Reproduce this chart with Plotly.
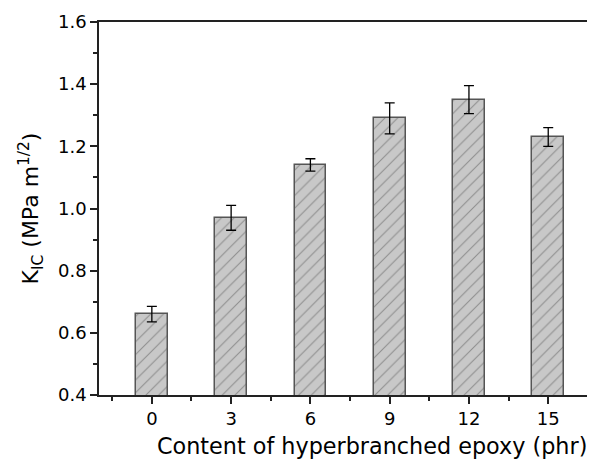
import plotly.graph_objects as go

content_phr = [0, 3, 6, 9, 12, 15]
kic_values = [0.66, 0.97, 1.14, 1.29, 1.35, 1.23]
kic_errors = [0.025, 0.04, 0.02, 0.05, 0.045, 0.03]

FONT = "DejaVu Sans, Arial, sans-serif"

fig = go.Figure()
fig.add_trace(go.Bar(
    x=content_phr, y=kic_values, width=1.2,
    marker=dict(color="#c8c8c8",
                line=dict(color="#555555", width=1.5),
                pattern=dict(shape="/", fgcolor="#555555", bgcolor="#c8c8c8",
                             size=9, solidity=0.12)),
    error_y=dict(type="data", array=kic_errors, visible=True,
                 color="black", thickness=1.3, width=5),
))

# page body has an 8px default margin, so the figure is 8px smaller
fig.update_layout(
    width=587, height=451,
    margin=dict(l=91, r=0, t=14, b=64),
    plot_bgcolor="white", paper_bgcolor="white",
    font=dict(family=FONT, color="black", size=19),
    showlegend=False,
    bargap=0,
    annotations=[dict(
        text="Content of hyperbranched epoxy (phr)",
        xref="paper", yref="paper", x=0.55, y=-0.137,
        xanchor="center", yanchor="middle", showarrow=False,
        font=dict(size=22.3, family=FONT, color="black"),
    )],
)
fig.update_xaxes(
    range=[-2.0, 16.77], tickmode="array", tickvals=content_phr,
    ticks="outside", ticklen=7, tickwidth=1.5, tickcolor="#222",
    minor=dict(tickvals=[-1.5, 1.5, 4.5, 7.5, 10.5, 13.5, 16.5], ticks="outside",
               ticklen=4, tickwidth=1.5, tickcolor="#222"),
    showline=True, linecolor="#222", linewidth=1.5, mirror=True,
    showgrid=False, zeroline=False,
    tickfont=dict(size=18),
)
fig.update_yaxes(
    range=[0.4, 1.6], dtick=0.2, tickformat=".1f",
    ticks="outside", ticklen=7, tickwidth=1.5, tickcolor="#222",
    minor=dict(dtick=0.1, ticks="outside", ticklen=4, tickwidth=1.5, tickcolor="#222"),
    showline=True, linecolor="#222", linewidth=1.5,
    showgrid=False, zeroline=False,
    tickfont=dict(size=18),
    title=dict(text="K<sub>IC</sub> (MPa m<sup>1/2</sup>)", font=dict(size=22), standoff=13),
)

fig.write_html("out.html")
